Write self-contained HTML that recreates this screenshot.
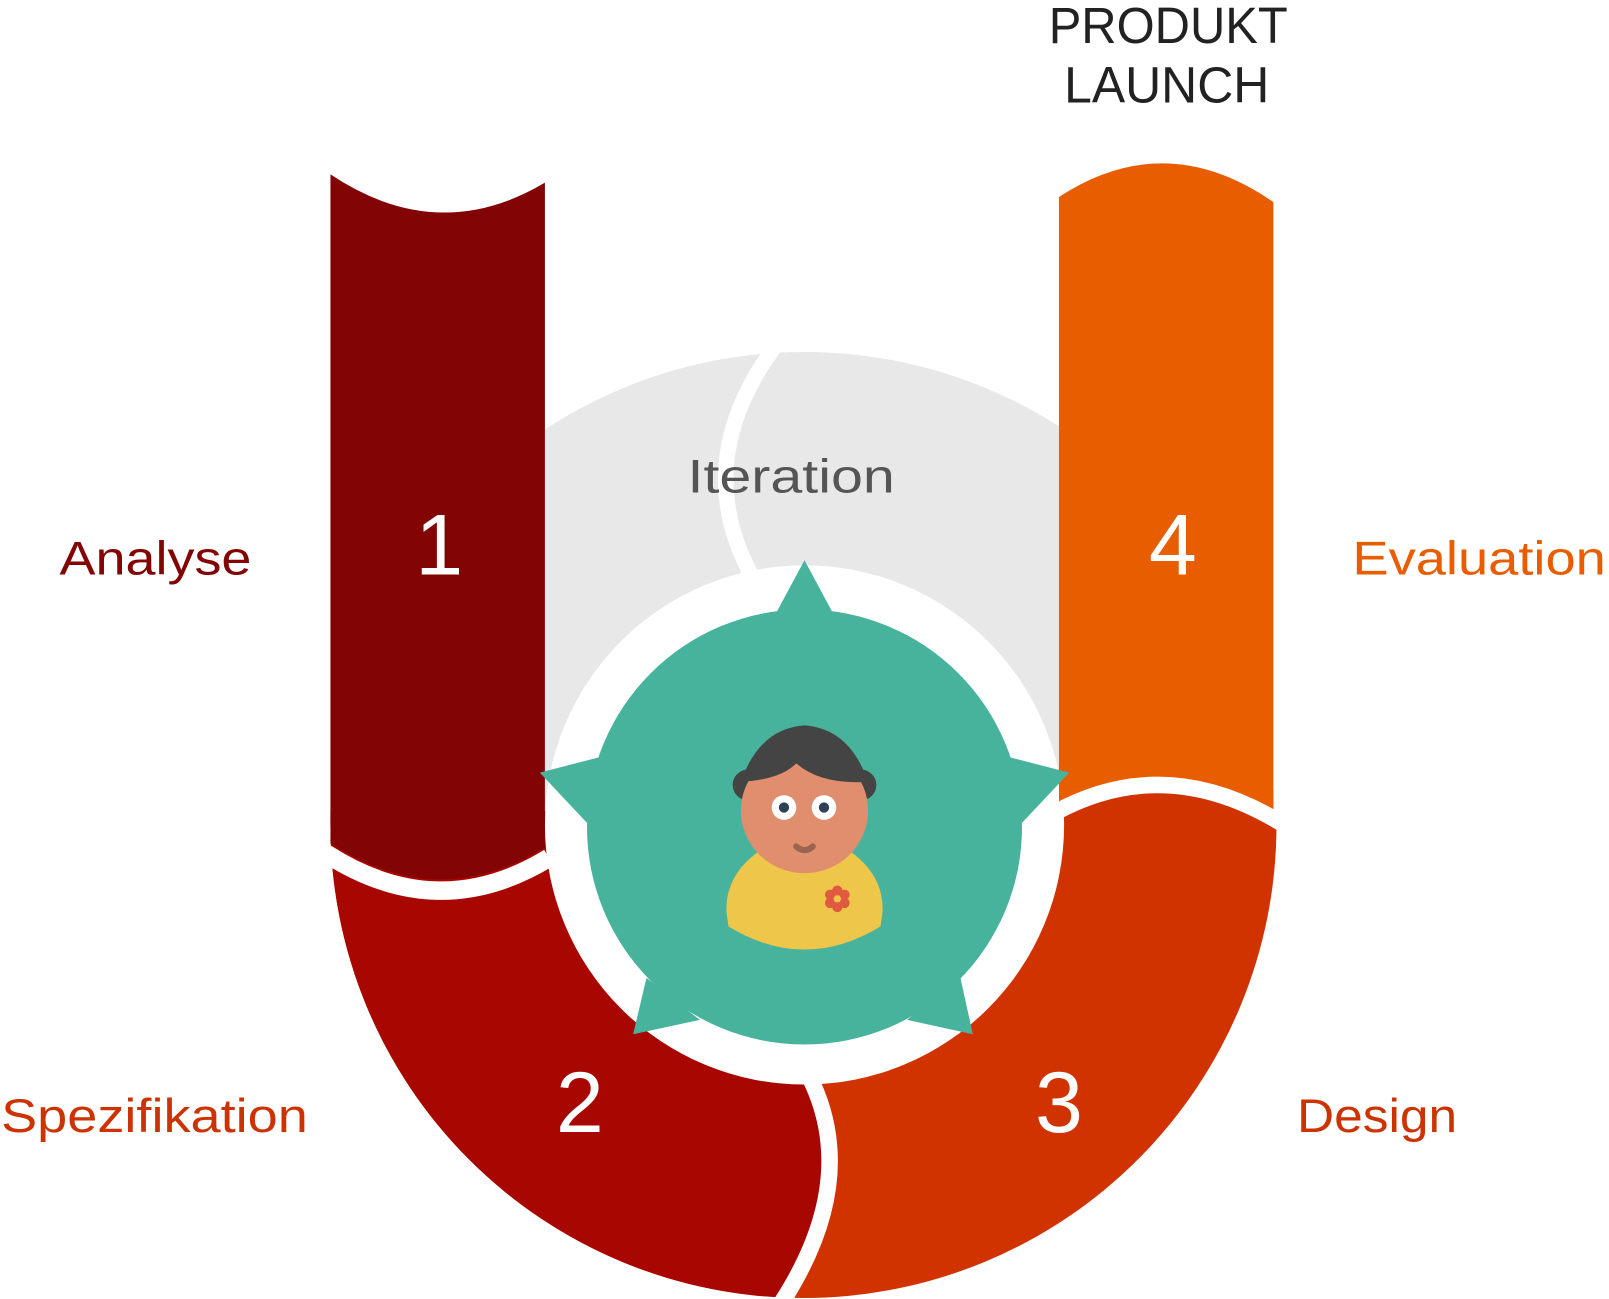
<!DOCTYPE html>
<html><head><meta charset="utf-8"><style>
html,body{margin:0;padding:0;background:#fff;}
svg{display:block;}
text{font-family:"Liberation Sans",sans-serif;}
</style></head><body>
<svg width="1609" height="1299" viewBox="0 0 1568 1266" xmlns="http://www.w3.org/2000/svg">
<defs>
<clipPath id="gclip"><rect x="531" y="300" width="501" height="504"/></clipPath>
<clipPath id="left2"><path d="M0 700 L800 700 L800 1050 L788 1050 Q840 1150 760 1270 L0 1270 Z"/></clipPath>
<path id="ring" d="M322 790 L322 804 A461 461 0 0 0 1244 804 L1244 797 L1241 797 L1241 770 L1032 770 L1032 804 L536 804 L531 790 Z"/>
</defs>
<path clip-path="url(#gclip)" fill="#e8e8e8" fill-rule="evenodd" d="M323 804 A461 461 0 0 1 1245 804 Z M531 804 A253 253 0 0 1 1037 804 Z"/>
<use href="#ring" fill="#d03300"/>
<use href="#ring" fill="#a80600" clip-path="url(#left2)"/>
<path d="M788 1048 Q840 1150 760 1272" stroke="#fff" stroke-width="16" fill="none"/>
<path d="M755 338 Q672 450 733 562" stroke="#fff" stroke-width="15" fill="none"/>
<circle cx="784" cy="804" r="253" fill="#fff"/>
<path fill="#820404" d="M322 170 Q427 240 531 178 L531 826 Q427 890 322 822 Z"/>
<path d="M318 832 Q427 902 535 836" stroke="#fff" stroke-width="18" fill="none"/>
<path fill="#e85d00" d="M1032 192 Q1136 124 1241 197 L1241 790 Q1136 730 1032 784 Z"/>
<path d="M1028 792 Q1136 733 1250 803" stroke="#fff" stroke-width="16" fill="none"/>
<g fill="#48b39c">
<circle cx="784" cy="806" r="212"/>
<polygon points="784,546 756,598 812,598"/>
<polygon points="526,753 584,738 572,802"/>
<polygon points="1042,753 984,738 996,802"/>
<polygon points="617,1008 630,953 682,994"/>
<polygon points="948,1008 936,953 884,994"/>
</g>
<path fill="#eec649" d="M742 828 Q784 848 826 828 Q862 852 860 890 L858 903 Q784 948 710 903 L708 890 Q706 852 742 828 Z"/>
<circle cx="729" cy="765" r="15" fill="#444"/>
<circle cx="839" cy="765" r="15" fill="#444"/>
<ellipse cx="784" cy="790" rx="62" ry="61" fill="#e08e6d"/>
<path fill="#444" d="M722 762 Q740 710 784 707 Q828 710 846 762 Q800 765 776 744 Q760 760 722 762 Z"/>
<circle cx="764" cy="787" r="12" fill="#fff"/><circle cx="764" cy="787" r="5" fill="#2d4155"/>
<circle cx="803" cy="787" r="12" fill="#fff"/><circle cx="803" cy="787" r="5" fill="#2d4155"/>
<path d="M776 825 Q784 832 792 825" stroke="#9a6450" stroke-width="6" stroke-linecap="round" fill="none"/>
<g fill="#e05a40">
<circle cx="816" cy="868" r="5"/><circle cx="816" cy="884" r="5"/>
<circle cx="809" cy="872" r="5"/><circle cx="823" cy="872" r="5"/>
<circle cx="809" cy="880" r="5"/><circle cx="823" cy="880" r="5"/>
</g>
<circle cx="816" cy="876" r="3.5" fill="#eec649"/>
<g fill="#fff" font-size="84" text-anchor="middle">
<text x="428" y="560">1</text>
<text x="1143" y="560">4</text>
<text x="565" y="1103">2</text>
<text x="1032" y="1103">3</text>
</g>
<text x="58" y="560" font-size="46" fill="#820404" textLength="187" lengthAdjust="spacingAndGlyphs">Analyse</text>
<text x="1318" y="560" font-size="46" fill="#e85d00" textLength="247" lengthAdjust="spacingAndGlyphs">Evaluation</text>
<text x="1" y="1103" font-size="46" fill="#cc3300" textLength="299" lengthAdjust="spacingAndGlyphs">Spezifikation</text>
<text x="1264" y="1103" font-size="46" fill="#cc3300" textLength="156" lengthAdjust="spacingAndGlyphs">Design</text>
<text x="670" y="480" font-size="46" fill="#555" textLength="202" lengthAdjust="spacingAndGlyphs">Iteration</text>
<text x="1022" y="42" font-size="50" fill="#222" font-weight="300" textLength="233" lengthAdjust="spacingAndGlyphs">PRODUKT</text>
<text x="1037" y="100" font-size="50" fill="#222" font-weight="300" textLength="200" lengthAdjust="spacingAndGlyphs">LAUNCH</text>
</svg>
</body></html>
